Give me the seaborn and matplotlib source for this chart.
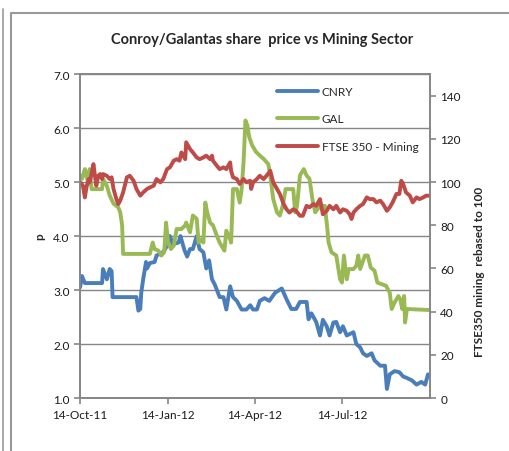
import pandas as pd
import seaborn as sns
import matplotlib.pyplot as plt
import matplotlib.dates as mdates
from matplotlib.lines import Line2D

start = pd.Timestamp("2011-10-14")
end = pd.Timestamp("2012-10-14")

# days after 14-Oct-11, share price in p
cnry_day = [0, 2, 5, 23, 24, 28, 31, 33, 34, 59, 61, 63, 64, 66, 69, 70, 73, 78, 80, 87,
            91, 94, 97, 103, 105, 109, 112, 115, 118, 122, 125, 129, 132, 135, 138, 141, 146, 150, 153, 157,
            160, 164, 169, 174, 178, 181, 185, 188, 193, 198, 204, 211, 216, 221, 226, 230, 237, 239, 242, 247,
            251, 254, 258, 261, 265, 268, 272, 275, 279, 286, 289, 293, 296, 300, 305, 308, 314, 319, 321, 324,
            329, 334, 338, 341, 347, 352, 357, 361, 364]
cnry_p = [3.05, 3.26, 3.13, 3.13, 3.39, 3.2, 3.39, 3.35, 2.87, 2.87, 2.62, 2.65, 2.95, 3.2, 3.52, 3.4, 3.5, 3.52, 3.64, 3.7,
          3.82, 4.0, 3.85, 3.88, 4.0, 3.75, 3.62, 3.76, 3.76, 4.0, 3.76, 3.7, 3.4, 3.55, 3.2, 3.1, 2.87, 2.87, 2.64, 3.07,
          2.87, 2.8, 2.64, 2.64, 2.72, 2.64, 2.64, 2.8, 2.85, 2.8, 2.95, 3.03, 2.83, 2.65, 2.65, 2.78, 2.78, 2.46, 2.57, 2.41,
          2.16, 2.45, 2.33, 2.16, 2.4, 2.41, 2.22, 2.33, 2.16, 2.22, 2.0, 1.94, 1.83, 1.78, 1.83, 1.7, 1.6, 1.6, 1.17, 1.44,
          1.5, 1.48, 1.4, 1.38, 1.33, 1.25, 1.3, 1.25, 1.44]

gal_day = [0, 2, 5, 7, 9, 10, 12, 23, 24, 28, 31, 35, 40, 42, 44, 45, 73, 76, 78, 82,
           85, 88, 90, 92, 95, 98, 101, 106, 110, 111, 115, 118, 122, 124, 127, 129, 131, 133, 136, 139,
           143, 146, 149, 151, 153, 157, 158, 160, 164, 167, 169, 171, 173, 175, 177, 180, 184, 188, 192, 197,
           199, 202, 206, 209, 212, 215, 223, 225, 227, 230, 234, 237, 240, 243, 246, 251, 256, 258, 260, 263,
           268, 272, 274, 276, 279, 281, 286, 289, 291, 293, 298, 301, 304, 308, 311, 320, 324, 326, 329, 333,
           335, 337, 339, 340, 342, 366]
gal_p = [5.12, 5.06, 5.24, 5.09, 4.96, 5.24, 4.87, 4.87, 5.06, 4.93, 4.75, 4.6, 4.53, 4.44, 4.2, 3.67, 3.67, 3.88, 3.76, 3.73,
         3.64, 3.7, 4.25, 3.88, 3.76, 3.82, 4.13, 4.13, 4.2, 4.25, 4.07, 4.38, 4.32, 3.88, 3.94, 3.88, 4.62, 4.44, 4.25, 4.2,
         4.01, 3.88, 3.79, 3.73, 4.1, 3.94, 3.88, 4.87, 4.87, 4.62, 4.87, 5.36, 6.14, 6.05, 5.83, 5.68, 5.56, 5.49, 5.43, 5.33,
         5.12, 4.69, 4.44, 4.38, 4.56, 4.87, 4.87, 4.44, 4.56, 5.12, 5.24, 5.12, 5.06, 4.69, 4.44, 4.56, 4.56, 4.25, 3.88, 3.7,
         3.64, 3.2, 3.14, 3.64, 3.2, 3.39, 3.39, 3.45, 3.64, 3.39, 3.64, 3.64, 3.42, 3.36, 3.14, 3.08, 2.95, 2.65, 2.77, 2.89,
         2.83, 2.65, 2.89, 2.4, 2.65, 2.63]

# FTSE 350 mining rebased to 100
ftse_day = [0, 3, 5, 7, 9, 10, 12, 14, 16, 17, 19, 21, 23, 24, 28, 31, 33, 35, 38, 40,
            42, 45, 49, 52, 56, 59, 63, 66, 70, 73, 77, 80, 84, 87, 91, 94, 98, 101, 104, 106,
            110, 111, 115, 118, 122, 125, 129, 132, 136, 138, 139, 143, 146, 150, 153, 157, 158, 160, 164, 167,
            171, 174, 178, 179, 181, 185, 188, 192, 195, 199, 202, 206, 209, 213, 216, 219, 223, 226, 230, 233,
            237, 240, 244, 247, 251, 254, 258, 261, 265, 268, 272, 275, 279, 282, 284, 286, 289, 293, 296, 300,
            303, 307, 310, 314, 317, 321, 324, 327, 331, 334, 336, 338, 341, 345, 348, 352, 355, 359, 362, 366]
ftse_idx = [100, 98.3, 92.9, 98.3, 101.4, 99.9, 103.7, 108.3, 101.4, 98.3, 102.9, 103.7, 101.4, 103.7, 102.9, 101.4, 102.2, 96.8, 92.1, 89.8,
            91.4, 95.2, 102.2, 102.9, 100.6, 96.8, 93.7, 95.2, 96.8, 97.5, 98.3, 101.4, 99.9, 101.4, 106, 106.8, 109.9, 110.6, 109.9, 113.7,
            110.6, 118.4, 115.3, 113.7, 111.4, 110.6, 111.4, 112.2, 110.6, 112.2, 109.9, 107.6, 106, 106.8, 106, 109.1, 105.2, 102.2, 101.4, 99.1,
            101.4, 99.9, 100.6, 96.8, 99.9, 101.4, 102.9, 101.4, 102.9, 105.2, 99.9, 96.8, 94.5, 89.8, 87.4, 85.9, 87.4, 86.7, 84.4, 84.4,
            89, 88.3, 89.8, 89, 92.1, 85.1, 86.7, 89, 87.4, 89, 85.9, 87.4, 86.7, 85.1, 82.9, 85.9, 87.4, 89, 89.8, 92.9,
            92.1, 92.1, 90.6, 91.4, 89.8, 86.7, 88.3, 90.6, 94.5, 94.5, 100.6, 99.1, 95.2, 93.7, 90.6, 92.9, 92.1, 92.9, 93.7, 93.7]

tick_dates = ["2011-10-14", "2012-01-14", "2012-04-14", "2012-07-14"]

sns.set_theme(style="white")
plt.rcParams['font.family'] = ['Lato', 'DejaVu Sans']

cnry = pd.DataFrame({"date": start + pd.to_timedelta(cnry_day, unit="D"), "p": cnry_p})
gal = pd.DataFrame({"date": start + pd.to_timedelta(gal_day, unit="D"), "p": gal_p})
ftse = pd.DataFrame({"date": start + pd.to_timedelta(ftse_day, unit="D"), "idx": ftse_idx})

grey = "#868686"
fig = plt.figure(figsize=(5.1, 4.52), dpi=100)
ax = fig.add_axes([0.157, 0.117, 0.686, 0.717])
ax2 = ax.twinx()

sns.lineplot(data=cnry, x="date", y="p", ax=ax, color="#4A7EBB", lw=2.8, estimator=None, legend=False)
h1 = ax.lines[-1]
sns.lineplot(data=gal, x="date", y="p", ax=ax, color="#98B954", lw=2.8, estimator=None, legend=False)
h2 = ax.lines[-1]
sns.lineplot(data=ftse, x="date", y="idx", ax=ax2, color="#BE4B48", lw=2.8, estimator=None, legend=False)
h3 = ax2.lines[-1]

ax.set_xlim(start, end)
ax.set_ylim(1, 7)
ax.set_yticks([1, 2, 3, 4, 5, 6, 7])
ax.yaxis.set_major_formatter(plt.FormatStrFormatter("%.1f"))
ax2.set_ylim(0, 150)
ax2.set_yticks(range(0, 141, 20))
ax.set_xticks(pd.to_datetime(tick_dates))
ax.xaxis.set_major_formatter(mdates.DateFormatter("%d-%b-%y"))

ax.grid(axis="y", color=grey, lw=1)
for a in (ax, ax2):
    for s in a.spines.values():
        s.set_color(grey)
        s.set_linewidth(1.2)
    a.set_xlabel("")
    a.set_ylabel("")
ax.tick_params(axis="both", direction="out", length=4, color=grey, width=1.2,
               labelsize=8.5, labelcolor="#1a1a1a", left=True, bottom=True)
ax2.tick_params(axis="y", direction="out", length=4, color=grey, width=1.2,
                labelsize=8.5, labelcolor="#1a1a1a", right=True)

fig.text(0.514, 0.9115, "Conroy/Galantas share  price vs Mining Sector",
         ha="center", va="center", fontsize=10.5, fontweight="bold")
fig.text(40 / 510, 1 - 237 / 452, "p", rotation=90, ha="center", va="center",
         fontsize=8.5, fontweight="bold")
fig.text(480 / 510, 1 - 272 / 452, "FTSE350 mining  rebased to 100", rotation=90,
         ha="center", va="center", fontsize=8.5, fontweight="bold")

ax2.legend([h1, h2, h3], ["CNRY", "GAL", "FTSE 350 - Mining"], loc="upper left",
           bbox_to_anchor=(272 / 510, 1 - 82 / 452), bbox_transform=fig.transFigure,
           frameon=False, fontsize=8.5, handlelength=3.5, handletextpad=0.3,
           labelspacing=1.4, borderaxespad=0)

# outer chart border
fig.add_artist(Line2D([3 / 510, 3 / 510], [0, 1 - 10 / 452], color="#999999", lw=1.2))
fig.add_artist(Line2D([11 / 510, 11 / 510, 1], [0, 1 - 14 / 452, 1 - 14 / 452], color="#999999", lw=1.5))

fig.savefig("out.png", dpi=100)
